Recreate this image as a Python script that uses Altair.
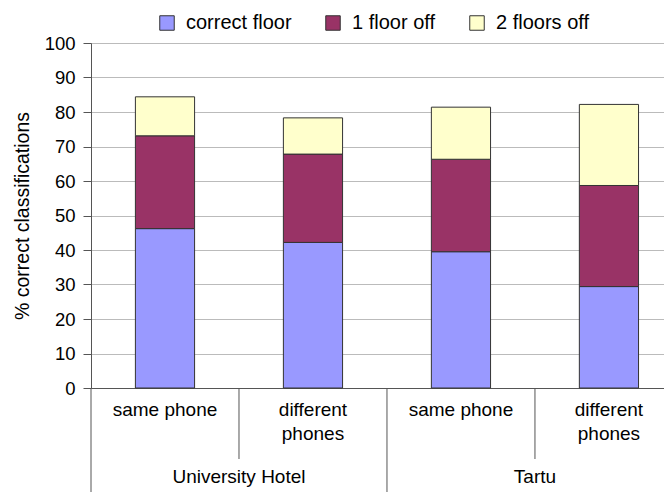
import altair as alt
import pandas as pd

groups = ["University Hotel", "University Hotel", "Tartu", "Tartu"]
conditions = ["same phone", "different\nphones", "same phone", "different\nphones"]
series = ["correct floor", "1 floor off", "2 floors off"]
correct = [46.2, 42.2, 39.5, 29.4]
one_off = [26.9, 25.6, 26.8, 29.3]
two_off = [11.3, 10.5, 15.1, 23.5]
colors = ["#9999FF", "#993366", "#FFFFCC"]
y_ticks = list(range(0, 101, 10))

FONT = "Liberation Sans"
W, H = 573, 345
HALF = 0.2  # half bar width in category units

rows = []
for i in range(len(conditions)):
    base = 0.0
    for k, vals in enumerate([correct, one_off, two_off]):
        v = vals[i]
        rows.append({"pos": i + 0.5, "x0": i + 0.5 - HALF, "x1": i + 0.5 + HALF,
                     "series": series[k], "order": k, "y0": base, "y1": base + v})
        base += v
df = pd.DataFrame(rows)

cat_df = pd.DataFrame({"pos": [i + 0.5 for i in range(len(conditions))], "label": conditions})

# group boundaries and centers
group_names = []
group_start = {}
group_end = {}
for i, g in enumerate(groups):
    if g not in group_start:
        group_names.append(g)
        group_start[g] = i
    group_end[g] = i + 1
grp_df = pd.DataFrame({"label": group_names,
                       "pos": [(group_start[g] + group_end[g]) / 2 for g in group_names]})
long_b = sorted(set([group_start[g] for g in group_names]))
short_b = [i for i in range(len(conditions)) if i not in long_b]
long_df = pd.DataFrame({"b": long_b})
short_df = pd.DataFrame({"b": short_b})

xscale = alt.Scale(domain=[0, 3.872], nice=False, zero=False)
yscale = alt.Scale(domain=[0, 100], nice=False)

bars = alt.Chart(df).mark_bar(stroke="#333333", strokeWidth=1).encode(
    x=alt.X("x0:Q", scale=xscale,
            axis=alt.Axis(labels=False, ticks=False, grid=False, title=None,
                          domainColor="#555555", domainWidth=1)),
    x2="x1:Q",
    y=alt.Y("y0:Q", scale=yscale,
            axis=alt.Axis(values=y_ticks, title="% correct classifications",
                          titleFont=FONT, titleFontSize=19.5, titleFontWeight="normal",
                          titleColor="#000000", titlePadding=12,
                          labelFont=FONT, labelFontSize=18.5, labelColor="#000000",
                          labelPadding=8, tickSize=8, tickColor="#555555",
                          domainColor="#555555", gridColor="#BBBBBB", gridWidth=1)),
    y2="y1:Q",
    color=alt.Color("series:N",
                    scale=alt.Scale(domain=series, range=colors),
                    legend=alt.Legend(orient="none", direction="horizontal",
                                      legendX=66, legendY=-30, title=None,
                                      symbolType="square", symbolSize=210,
                                      symbolStrokeColor="#333333", symbolStrokeWidth=1,
                                      symbolOpacity=1,
                                      labelFont=FONT, labelFontSize=20, labelColor="#000000",
                                      labelOffset=9, columnPadding=31)),
    order="order:Q",
)

long_rules = alt.Chart(long_df).mark_rule(color="#555555", strokeWidth=1).encode(
    x=alt.X("b:Q", scale=xscale), y=alt.value(H), y2=alt.value(H + 115))
short_rules = alt.Chart(short_df).mark_rule(color="#555555", strokeWidth=1).encode(
    x=alt.X("b:Q", scale=xscale), y=alt.value(H), y2=alt.value(H + 71))

cat_text = alt.Chart(cat_df).mark_text(font=FONT, fontSize=19, baseline="top",
                                       lineBreak="\n", lineHeight=24, color="#000000").encode(
    x=alt.X("pos:Q", scale=xscale), y=alt.value(H + 13), text="label:N")
grp_text = alt.Chart(grp_df).mark_text(font=FONT, fontSize=19, baseline="middle",
                                       color="#000000").encode(
    x=alt.X("pos:Q", scale=xscale), y=alt.value(H + 89), text="label:N")

chart = alt.layer(bars, long_rules, short_rules, cat_text, grp_text).properties(
    width=W, height=H,
    autosize=alt.AutoSizeParams(type="none"),
    padding={"left": 83, "top": 35, "right": 0, "bottom": 104},
).configure_view(stroke=None).configure(background="white")

chart.save("out.html", embed_options={"renderer": "svg", "actions": False})
